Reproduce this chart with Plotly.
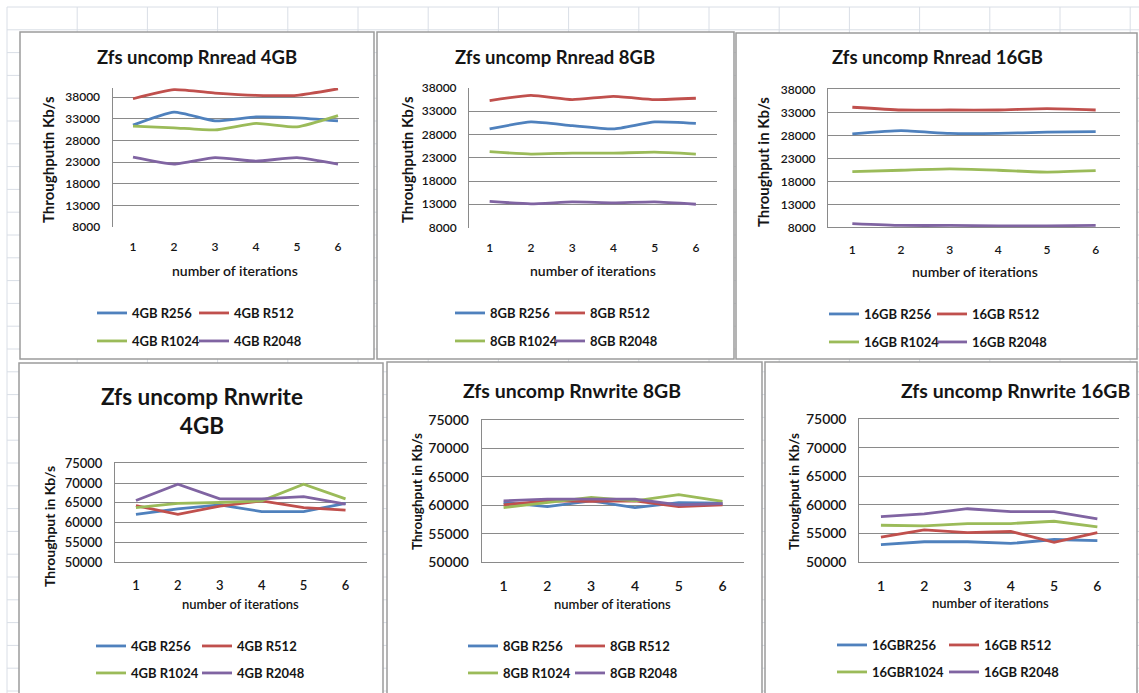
import plotly.graph_objects as go

W, H = 1139, 693

# ---- data -----------------------------------------------------------------
iterations = [1, 2, 3, 4, 5, 6]
record_sizes = ["R256", "R512", "R1024", "R2048"]

read_4gb_r256 = [31500, 34500, 32500, 33400, 33200, 32500]
read_4gb_r512 = [37600, 39700, 38900, 38400, 38400, 39900]
read_4gb_r1024 = [31300, 30900, 30400, 31900, 31100, 33700]
read_4gb_r2048 = [24100, 22500, 24000, 23200, 24000, 22500]

read_8gb_r256 = [29200, 30700, 29900, 29200, 30700, 30400]
read_8gb_r512 = [35300, 36400, 35500, 36200, 35500, 35800]
read_8gb_r1024 = [24300, 23800, 24000, 24000, 24200, 23800]
read_8gb_r2048 = [13600, 13100, 13500, 13300, 13500, 13000]

read_16gb_r256 = [28300, 29000, 28400, 28400, 28700, 28800]
read_16gb_r512 = [34100, 33500, 33500, 33500, 33800, 33500]
read_16gb_r1024 = [20100, 20400, 20700, 20400, 20000, 20300]
read_16gb_r2048 = [8800, 8400, 8400, 8300, 8300, 8400]

write_4gb_r256 = [62100, 63500, 64500, 62800, 62800, 64900]
write_4gb_r512 = [64300, 62100, 64200, 65500, 63800, 63200]
write_4gb_r1024 = [63800, 64900, 65100, 65500, 69700, 66000]
write_4gb_r2048 = [65600, 69700, 66000, 66000, 66600, 64700]

write_8gb_r256 = [60500, 59800, 60800, 59600, 60500, 60400]
write_8gb_r512 = [60100, 60800, 60700, 60800, 59800, 60100]
write_8gb_r1024 = [59600, 60500, 61400, 60800, 61900, 60700]
write_8gb_r2048 = [60800, 61100, 61100, 61100, 60100, 60300]

write_16gb_r256 = [53000, 53500, 53500, 53200, 53900, 53700]
write_16gb_r512 = [54300, 55600, 55100, 55300, 53400, 55100]
write_16gb_r1024 = [56400, 56300, 56700, 56700, 57100, 56100]
write_16gb_r2048 = [57900, 58400, 59300, 58800, 58800, 57500]

read_ticks = [8000, 13000, 18000, 23000, 28000, 33000, 38000]
write_ticks = [50000, 55000, 60000, 65000, 70000, 75000]

legend_4gb = ["4GB R256", "4GB R512", "4GB R1024", "4GB R2048"]
legend_8gb = ["8GB R256", "8GB R512", "8GB R1024", "8GB R2048"]
legend_16gb = ["16GB R256", "16GB R512", "16GB R1024", "16GB R2048"]
legend_16gb_write = ["16GBR256", "16GB R512", "16GBR1024", "16GB R2048"]

COLORS = ["#4F81BD", "#C0504D", "#9BBB59", "#8064A2"]
FONT = "Lato, Calibri, sans-serif"
GRID = "#8a8a8a"
SHEET = "#d9dee6"
INK = "#151515"


def fx(x):
    return x / W


def fy(y):
    return 1 - y / H


# ---- panel layout (pixel geometry of each embedded chart) ----------------
panels = [
    dict(series=[read_4gb_r256, read_4gb_r512, read_4gb_r1024, read_4gb_r2048],
         names=legend_4gb, ticks=read_ticks, yrange=[8000, 40080],
         box=(20, 32, 374, 359), plot=(112.5, 88, 358.5, 227),
         title="Zfs uncomp Rnread 4GB", tpos=(197, 57), tsize=18.5,
         ytitle="Throughputin Kb/s", ypos=(48, 160), ysize=15,
         xtitle_pos=(235, 270), xsize=14, tick_size=12,
         leg_x=(100, 202), leg_y=(313, 341), smooth=True, frame=False),
    dict(series=[read_8gb_r256, read_8gb_r512, read_8gb_r1024, read_8gb_r2048],
         names=legend_8gb, ticks=read_ticks, yrange=[8000, 38000],
         box=(377, 32, 734, 359), plot=(469, 88, 716.5, 227.5),
         title="Zfs uncomp Rnread 8GB", tpos=(555, 57), tsize=18.5,
         ytitle="Throughputin Kb/s", ypos=(407, 160), ysize=15,
         xtitle_pos=(593, 270), xsize=14, tick_size=12,
         leg_x=(458, 558), leg_y=(313, 341), smooth=True, frame=False),
    dict(series=[read_16gb_r256, read_16gb_r512, read_16gb_r1024, read_16gb_r2048],
         names=legend_16gb, ticks=read_ticks, yrange=[8000, 38000],
         box=(736, 33, 1137, 359), plot=(828, 89.3, 1120, 227.3),
         title="Zfs uncomp Rnread 16GB", tpos=(937, 57), tsize=18.5,
         ytitle="Throughput in Kb/s", ypos=(763, 162), ysize=15,
         xtitle_pos=(975, 272), xsize=14, tick_size=12,
         leg_x=(832, 940), leg_y=(314, 342), smooth=True, frame=True),
    dict(series=[write_4gb_r256, write_4gb_r512, write_4gb_r1024, write_4gb_r2048],
         names=legend_4gb, ticks=write_ticks, yrange=[50000, 75000],
         box=(19, 363, 383, 705), plot=(115, 463.3, 366.5, 562.3),
         title="Zfs uncomp Rnwrite<br>4GB", tpos=(202, 411), tsize=22.5,
         ytitle="Throughput in Kb/s", ypos=(49, 527), ysize=14,
         xtitle_pos=(240, 604), xsize=13, tick_size=13,
         leg_x=(99, 205), leg_y=(646, 673), smooth=False, frame=True),
    dict(series=[write_8gb_r256, write_8gb_r512, write_8gb_r1024, write_8gb_r2048],
         names=legend_8gb, ticks=write_ticks, yrange=[50000, 75000],
         box=(387, 362, 762, 705), plot=(481.7, 420, 744.4, 562.3),
         title="Zfs uncomp Rnwrite 8GB", tpos=(572, 390), tsize=19.5,
         ytitle="Throughput in Kb/s", ypos=(417, 492), ysize=13.5,
         xtitle_pos=(612, 604), xsize=13, tick_size=14,
         leg_x=(471, 578), leg_y=(646, 673), smooth=False, frame=True),
    dict(series=[write_16gb_r256, write_16gb_r512, write_16gb_r1024, write_16gb_r2048],
         names=legend_16gb_write, ticks=write_ticks, yrange=[50000, 75000],
         box=(765, 362, 1137, 705), plot=(859.3, 419.3, 1119, 561.7),
         title="Zfs uncomp Rnwrite 16GB", tpos=(1016, 390), tsize=19.5,
         ytitle="Throughput in Kb/s", ypos=(794, 492), ysize=13.5,
         xtitle_pos=(990, 603), xsize=13, tick_size=14,
         leg_x=(840, 952), leg_y=(645, 672), smooth=False, frame=True),
]

fig = go.Figure()
shapes = []
annotations = []
layout = {}

# spreadsheet cell grid behind the charts
for k in range(17):
    x = 7 + 70.2 * k
    shapes.append(dict(type="line", xref="paper", yref="paper", layer="below",
                       x0=fx(x), x1=fx(x), y0=fy(7), y1=0,
                       line=dict(color=SHEET, width=1)))
for k in range(31):
    y = 7 + 22.8 * k
    shapes.append(dict(type="line", xref="paper", yref="paper", layer="below",
                       x0=fx(7), x1=1, y0=fy(y), y1=fy(y),
                       line=dict(color=SHEET, width=1)))

legend_count = 0
for i, p in enumerate(panels):
    n = "" if i == 0 else str(i + 1)
    xa, ya = "x" + n, "y" + n
    bx0, by0, bx1, by1 = p["box"]
    shapes.append(dict(type="rect", xref="paper", yref="paper", layer="below",
                       x0=fx(bx0), x1=fx(bx1), y0=fy(by1), y1=fy(by0),
                       fillcolor="white", line=dict(color="#9c9c9c", width=1.5)))

    px0, py0, px1, py1 = p["plot"]
    for j, (vals, name) in enumerate(zip(p["series"], p["names"])):
        # one legend box per entry: two columns, two rows under each chart
        legend_count += 1
        lid = "legend" if legend_count == 1 else "legend%d" % legend_count
        layout[lid] = dict(
            x=fx(p["leg_x"][j % 2] - 8), y=fy(p["leg_y"][j // 2]),
            xanchor="left", yanchor="middle", orientation="h",
            bgcolor="rgba(0,0,0,0)", borderwidth=0, itemwidth=30,
            font=dict(family=FONT, size=13, color=INK, weight="bold"))
        fig.add_trace(go.Scatter(
            x=iterations, y=vals, name=name, mode="lines",
            line=dict(color=COLORS[j], width=2.8,
                      shape="spline" if p["smooth"] else "linear", smoothing=0.5),
            xaxis=xa, yaxis=ya, legend=lid, hoverinfo="skip"))

    tick_font = dict(family=FONT, size=p["tick_size"], color=INK, weight=600)
    # framed charts show a rule along both the bottom and the top of the plot
    layout["xaxis" + n] = dict(
        domain=[fx(px0), fx(px1)], anchor=ya, range=[0.5, 6.5],
        tickvals=iterations, showgrid=False, zeroline=False,
        showline=p["frame"], mirror=p["frame"], linecolor=GRID, linewidth=1,
        ticks="", ticklabelstandoff=11, fixedrange=True, automargin=False,
        tickfont=tick_font)
    layout["yaxis" + n] = dict(
        domain=[fy(py1), fy(py0)], anchor=xa, range=p["yrange"],
        tickvals=p["ticks"], tickformat="d", showgrid=True, gridcolor=GRID,
        gridwidth=1, zeroline=False, showline=True, linecolor=GRID, linewidth=1,
        ticks="", ticklabelstandoff=9, fixedrange=True, automargin=False,
        tickfont=tick_font)

    annotations.append(dict(
        text="<b>%s</b>" % p["title"], x=fx(p["tpos"][0]), y=fy(p["tpos"][1]),
        xref="paper", yref="paper", showarrow=False, xanchor="center",
        yanchor="middle", font=dict(family=FONT, size=p["tsize"], color=INK)))
    annotations.append(dict(
        text="<b>%s</b>" % p["ytitle"], x=fx(p["ypos"][0]), y=fy(p["ypos"][1]),
        xref="paper", yref="paper", showarrow=False, textangle=-90,
        xanchor="center", yanchor="middle",
        font=dict(family=FONT, size=p["ysize"], color=INK)))
    annotations.append(dict(
        text="number of iterations", x=fx(p["xtitle_pos"][0]),
        y=fy(p["xtitle_pos"][1]), xref="paper", yref="paper", showarrow=False,
        xanchor="center", yanchor="middle",
        font=dict(family=FONT, size=p["xsize"], color=INK, weight=600)))

fig.update_layout(
    width=W, height=H,
    margin=dict(l=0, r=0, t=0, b=0, autoexpand=False),
    paper_bgcolor="white", plot_bgcolor="rgba(0,0,0,0)",
    shapes=shapes, annotations=annotations, showlegend=True, **layout)

fig.write_html("out.html")
